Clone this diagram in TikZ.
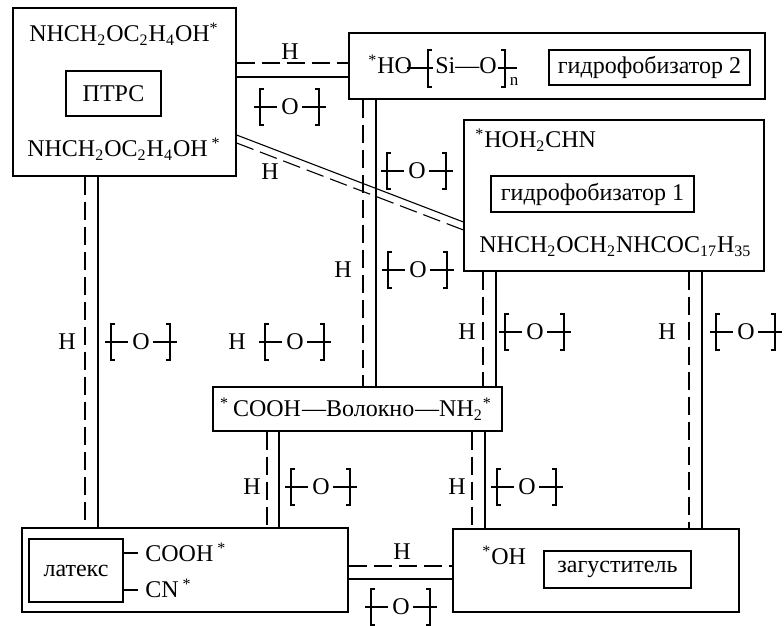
\documentclass[tikz,border=0pt]{standalone}
\usepackage{fontspec}
\setmainfont{Liberation Serif}
\usetikzlibrary{fit}
\newcommand\sbs[1]{\textsubscript{#1}}
\newcommand\sps[1]{\textsuperscript{#1}}
\begin{document}
\begin{tikzpicture}[x=0.5pt,y=-0.5pt,
  every node/.style={font=\fontsize{12}{14}\selectfont, inner sep=0pt},
  box/.style={draw, line width=0.6pt, inner sep=0pt},
  sol/.style={line width=0.55pt},
  dsh/.style={line width=0.55pt, dash pattern=on 9pt off 3.5pt},
  lbl/.style={anchor=center},
  txt/.style={anchor=base west},
  oxy/.pic={
    \draw[sol] (-36,0) -- (-13,0);
    \draw[sol] (-26,-18) -- (-30,-18) -- (-30,18) -- (-26,18);
    \draw[sol] (12,0) -- (36,0);
    \draw[sol] (25,-18) -- (29,-18) -- (29,18) -- (25,18);
    \node[lbl] (-o) at (0,0) {O};
  }]
\useasboundingbox (0,0) rectangle (784,626);

% boxes
\node[box, fit={(13,8) (236,176)}] (ptrs) {};
\node[box, fit={(349,33) (765,99)}] (hp2) {};
\node[box, fit={(464,120) (764,271)}] (hp1) {};
\node[box, fit={(213,387) (502,431)}] (fiber) {};
\node[box, fit={(22,528) (348,612)}] (latex) {};
\node[box, fit={(453,529) (739,612)}] (thick) {};
% inner boxes
\node[box, fit={(66,71) (161,116)}] (ptrsin) {};
\node[box, fit={(549,50) (750,85)}] (hp2in) {};
\node[box, fit={(491,176) (694,212)}] (hp1in) {};
\node[box, fit={(29,539) (123,602)}] (latexin) {};
\node[box, fit={(544,551) (691,588)}] (thickin) {};

% texts
\node[lbl] (ptrslbl) at (ptrsin.center) {ПТРС};
\node[lbl] (hp2lbl) at (hp2in.center) {гидрофобизатор 2};
\node[lbl] (hp1lbl) at (hp1in.center) {гидрофобизатор 1};
\node[lbl] (latexlbl) at (latexin.center) {латекс};
\node[lbl] (thicklbl) at (thickin.center) {загуститель};

\node[anchor=base] (ptrst) at (124,42) {NHCH\sbs{2}OC\sbs{2}H\sbs{4}OH\sps{*}};
\node[anchor=base] (ptrsb) at (124,157) {NHCH\sbs{2}OC\sbs{2}H\sbs{4}OH\,\sps{*}};
\node[txt] (hp1t) at (475,148) {\sps{*}HOH\sbs{2}CHN};
\node[txt] (hp1b) at (479,253) {NHCH\sbs{2}OCH\sbs{2}NHCOC\sbs{17}H\sbs{35}};
\node[anchor=base] (fibert) at (356,417) {\sps{*}\,COOH\kern0.5pt—Волокно\kern0.5pt—NH\sbs{2}\sps{*}};
\node[txt] (cooh) at (145,562) {COOH\,\sps{*}};
\node[txt] (cn) at (145,598) {CN\,\sps{*}};
\node[txt] (oh) at (482,565) {\sps{*}OH};

% latex side bonds
\coordinate (l1e) at (138,553);
\coordinate (l2e) at (138,590);
\draw[sol] (latexin.east |- l1e) -- (l1e);
\draw[sol] (latexin.east |- l2e) -- (l2e);

% siloxane
\node[txt] (ho) at (368,74) {\sps{*}HO};
\node[txt] (sio) at (435,74) {Si—O};
\node[anchor=center, font=\fontsize{8.5}{10}\selectfont] (nn) at (514,81) {n};
\draw[sol] (407,68) -- (433,68);
\draw[sol] (432,50) -- (428,50) -- (428,87) -- (432,87);
\draw[sol] (498,68) -- (517,68);
\draw[sol] (501,50) -- (505,50) -- (505,87) -- (501,87);

% helper coordinates
\coordinate (ya) at (0,63);
\coordinate (yb) at (0,77);
\coordinate (d1) at (0,135);
\coordinate (d2) at (0,222);
\coordinate (d3) at (0,143);
\coordinate (d4) at (0,230);
\coordinate (y566) at (0,566);
\coordinate (y579) at (0,579);
\foreach \v in {85,98,363,376,483,496,689,702,267,279,472,485}{\coordinate (v\v) at (\v,0);}

% connectors
\draw[dsh] (ptrs.east |- ya) -- (hp2.west |- ya);
\draw[sol] (ptrs.east |- yb) -- (hp2.west |- yb);
\draw[sol] (ptrs.east |- d1) -- (hp1.west |- d2);
\draw[dsh] (ptrs.east |- d3) -- (hp1.west |- d4);
\draw[dsh] (ptrs.south -| v85) -- (latex.north -| v85);
\draw[sol] (ptrs.south -| v98) -- (latex.north -| v98);
\draw[dsh] (hp2.south -| v363) -- (fiber.north -| v363);
\draw[sol] (hp2.south -| v376) -- (fiber.north -| v376);
\draw[dsh] (hp1.south -| v483) -- (fiber.north -| v483);
\draw[sol] (hp1.south -| v496) -- (fiber.north -| v496);
\draw[dsh] (hp1.south -| v689) -- (thick.north -| v689);
\draw[sol] (hp1.south -| v702) -- (thick.north -| v702);
\draw[dsh] (fiber.south -| v267) -- (latex.north -| v267);
\draw[sol] (fiber.south -| v279) -- (latex.north -| v279);
\draw[dsh] (fiber.south -| v472) -- (thick.north -| v472);
\draw[sol] (fiber.south -| v485) -- (thick.north -| v485);
\draw[dsh] (latex.east |- y566) -- (thick.west |- y566);
\draw[sol] (latex.east |- y579) -- (thick.west |- y579);

% H labels
\node[lbl] (h1) at (290,52) {H};
\node[lbl] (h2) at (270,172) {H};
\node[lbl] (h3) at (343,270) {H};
\node[lbl] (h4) at (67,342) {H};
\node[lbl] (h5) at (237,342) {H};
\node[lbl] (h6) at (467,332) {H};
\node[lbl] (h7) at (667,332) {H};
\node[lbl] (h8) at (252,487) {H};
\node[lbl] (h9) at (457,487) {H};
\node[lbl] (h10) at (402,552) {H};

% [O] groups
\pic (o1) at (290,107) {oxy};
\pic (o2) at (417,171) {oxy};
\pic (o3) at (418,270) {oxy};
\pic (o4) at (141,342) {oxy};
\pic (o5) at (295,342) {oxy};
\pic (o6) at (535,332) {oxy};
\pic (o7) at (746,332) {oxy};
\pic (o8) at (321,487) {oxy};
\pic (o9) at (527,487) {oxy};
\pic (o10) at (401,607) {oxy};
\end{tikzpicture}
\end{document}
